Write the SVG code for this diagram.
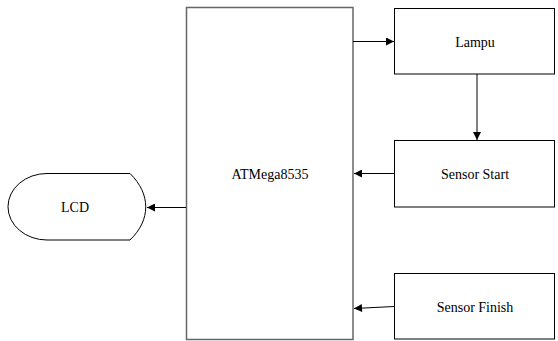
<svg xmlns="http://www.w3.org/2000/svg" width="558" height="341" viewBox="0 0 558 341">
<style>
.box{fill:#fff;stroke:#000;stroke-width:1}
.mcu{fill:#fff;stroke:#666;stroke-width:1.5}
text{font-family:'Liberation Serif','Times New Roman','DejaVu Serif',serif;font-size:14px;fill:#000;text-anchor:middle;dominant-baseline:central}
.conn{stroke:#000;stroke-width:1;fill:none;marker-end:url(#ah)}
</style>
<defs>
<marker id="ah" viewBox="0 0 10 10" refX="10" refY="5" markerWidth="10" markerHeight="8" markerUnits="userSpaceOnUse" orient="auto">
<path d="M0,0 L10,5 L0,10 z" fill="#000"/>
</marker>
</defs>
<g id="atmega">
<rect class="mcu" x="186.5" y="7.5" width="166.5" height="332"/>
<text x="270" y="174" font-family="Liberation Serif, serif">ATMega8535</text>
</g>
<g id="lampu">
<rect class="box" x="394.5" y="8.5" width="160" height="65.5"/>
<text x="475" y="42" font-family="Liberation Serif, serif">Lampu</text>
</g>
<g id="sensor-start">
<rect class="box" x="394.5" y="140.5" width="160" height="66.5"/>
<text x="475" y="174" font-family="Liberation Serif, serif">Sensor Start</text>
</g>
<g id="sensor-finish">
<rect class="box" x="394.5" y="273.5" width="160" height="65.5"/>
<text x="475" y="307" font-family="Liberation Serif, serif">Sensor Finish</text>
</g>
<g id="lcd">
<path class="box" d="M47,173.5 L130,173.5 C151,194 151,220 130,240 L47,240 A39,33.25 0 0 1 47,173.5 z"/>
<text x="75" y="207" font-family="Liberation Serif, serif">LCD</text>
</g>
<g id="connectors">
<line class="conn" x1="353" y1="41.5" x2="394" y2="41.5"/>
<line class="conn" x1="477" y1="74" x2="477" y2="140"/>
<line class="conn" x1="394" y1="173.5" x2="354" y2="173.5"/>
<line class="conn" x1="394" y1="306.5" x2="354" y2="308.5"/>
<line class="conn" x1="186" y1="207.5" x2="147" y2="207.5"/>
</g>
</svg>
